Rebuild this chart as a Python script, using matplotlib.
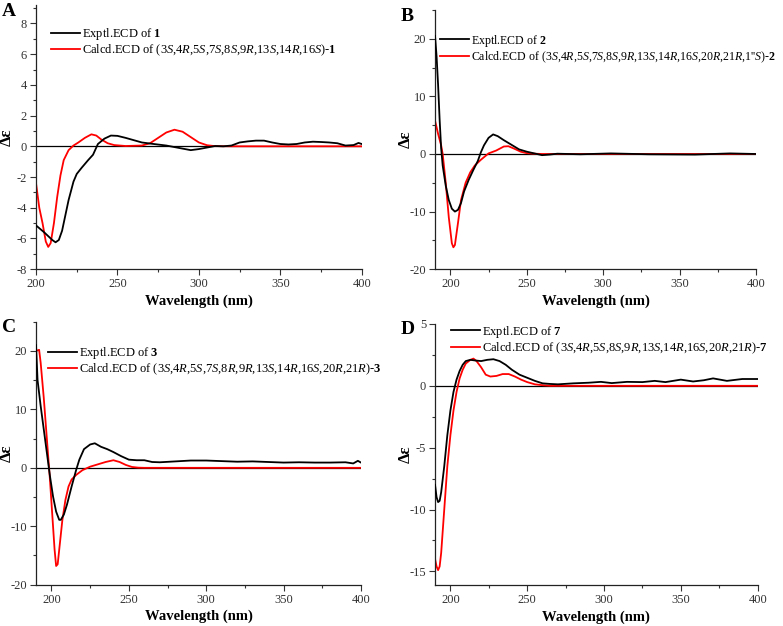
import numpy as np
import matplotlib
matplotlib.use("Agg")
import matplotlib.pyplot as plt
from matplotlib.ticker import AutoMinorLocator

plt.rcParams['font.family'] = ['Liberation Serif', 'DejaVu Serif']
plt.rcParams['mathtext.fontset'] = 'custom'
plt.rcParams['mathtext.rm'] = 'Liberation Serif'
plt.rcParams['mathtext.it'] = 'Liberation Serif:italic'
plt.rcParams['mathtext.bf'] = 'Liberation Serif:bold'
plt.rcParams['axes.unicode_minus'] = False

# -- panel A -------------------------------------------------------------------
a_exp_x = [200, 205, 208, 210, 212, 214, 216, 218, 220, 223, 225, 228, 232, 235, 238, 242, 246,
           250, 255, 260, 265, 270, 280, 290, 295, 300, 305, 310, 315, 320, 325, 330, 335, 340,
           345, 350, 355, 360, 365, 370, 375, 380, 385, 390, 395, 398, 400]
a_exp_y = [-5.15, -5.6, -5.9, -6.1, -6.25, -6.1, -5.5, -4.5, -3.5, -2.3, -1.8, -1.4, -0.9, -0.55,
           0.15, 0.5, 0.7, 0.68, 0.55, 0.4, 0.25, 0.18, 0.05, -0.15, -0.25, -0.18, -0.08, 0.02,
           0.0, 0.05, 0.25, 0.32, 0.37, 0.37, 0.25, 0.15, 0.12, 0.15, 0.25, 0.3, 0.28, 0.25, 0.2,
           0.05, 0.08, 0.22, 0.15]
a_calc_x = [200, 202, 204, 206, 207.5, 209, 211, 213, 215, 217, 220, 223, 226, 230, 234, 237, 240,
            244, 248, 255, 265, 270, 275, 280, 285, 290, 295, 300, 305, 310, 320, 400]
a_calc_y = [-2.4, -4.0, -5.0, -6.2, -6.55, -6.3, -5.0, -3.3, -1.9, -0.9, -0.25, 0.05, 0.25, 0.55,
            0.78, 0.7, 0.45, 0.2, 0.08, 0.02, 0.05, 0.2, 0.55, 0.9, 1.08, 0.95, 0.6, 0.25, 0.07,
            0.01, 0.0, 0.0]

# -- panel B -------------------------------------------------------------------
b_exp_x = [190, 191, 192, 193, 194, 195, 197, 199, 201, 203, 205, 207, 209, 212, 215, 218, 220,
           222, 225, 228, 231, 235, 240, 245, 250, 255, 260, 265, 270, 285, 305, 330, 360, 383, 400]
b_exp_y = [20.5, 17, 12, 6, 1, -2, -5.5, -8, -9.5, -10, -9.7, -8.5, -6.5, -4.5, -2.8, -1.2, 0.3,
           1.5, 2.8, 3.4, 3.1, 2.4, 1.6, 0.8, 0.4, 0.1, -0.2, -0.1, 0.05, -0.05, 0.1, -0.05, -0.1,
           0.1, 0.0]
b_calc_x = [190, 192, 194, 195, 197, 199, 201, 202, 203, 205, 207, 210, 213, 216, 220, 225, 230,
            235, 238, 242, 246, 250, 255, 260, 400]
b_calc_y = [5.8, 3.5, 1.5, 0, -5, -11, -15.5, -16.2, -15.8, -12, -8, -5, -3.2, -2, -1, 0.1, 0.6,
            1.3, 1.35, 0.9, 0.4, 0.15, 0.05, 0.0, 0.0]

# -- panel C -------------------------------------------------------------------
c_exp_x = [190, 191, 193, 195, 197, 199, 201, 203, 205, 206, 208, 210, 213, 216, 218, 221, 225,
           228, 232, 236, 240, 245, 250, 255, 260, 265, 270, 280, 290, 300, 310, 320, 330, 340,
           350, 360, 370, 380, 390, 395, 398, 400]
c_exp_y = [21, 15, 10.6, 6.6, 2.6, -1.4, -4.9, -7.5, -8.9, -8.9, -8, -6.3, -3.2, -0.3, 1.4, 3.2,
           4.0, 4.2, 3.6, 3.2, 2.7, 2.0, 1.4, 1.3, 1.3, 1.0, 0.95, 1.1, 1.25, 1.25, 1.15, 1.05,
           1.1, 1.0, 0.9, 0.95, 0.9, 0.9, 0.95, 0.75, 1.2, 0.9]
c_calc_x = [190, 192, 193, 195, 197, 199, 201, 202, 203, 204, 205, 207, 209, 211, 213, 216, 220,
            225, 230, 235, 240, 244, 248, 252, 256, 260, 400]
c_calc_y = [20, 20.2, 18, 12, 5, -2, -10, -14, -16.8, -16.5, -14, -9, -5.5, -3.2, -2, -1.2, -0.4,
            0.2, 0.6, 1.0, 1.3, 1.0, 0.5, 0.15, 0.03, 0.0, 0.0]

# -- panel D -------------------------------------------------------------------
d_exp_x = [190, 191, 192, 193, 194, 196, 198, 200, 202, 204, 206, 208, 210, 213, 216, 220, 224,
           228, 232, 236, 240, 245, 250, 255, 260, 265, 270, 280, 290, 298, 305, 315, 325, 333,
           340, 350, 358, 365, 371, 380, 390, 400]
d_exp_y = [-8, -9, -9.4, -9.3, -8.6, -6.5, -4, -2, -0.5, 0.5, 1.2, 1.7, 2.0, 2.1, 2.05, 2.0, 2.1,
           2.15, 2.0, 1.7, 1.3, 0.9, 0.65, 0.4, 0.2, 0.15, 0.12, 0.2, 0.25, 0.32, 0.22, 0.32, 0.3,
           0.4, 0.3, 0.5, 0.35, 0.45, 0.6, 0.4, 0.55, 0.55]
d_calc_x = [190, 191, 192, 193, 194, 196, 198, 200, 202, 204, 206, 208, 210, 213, 215, 217, 220,
            223, 226, 230, 234, 238, 242, 246, 250, 255, 260, 265, 400]
d_calc_y = [-14, -14.6, -14.9, -14.6, -13.5, -10, -6.5, -4, -2, -0.5, 0.6, 1.3, 1.8, 2.1, 2.2,
            2.0, 1.5, 0.9, 0.75, 0.8, 0.95, 0.95, 0.75, 0.5, 0.3, 0.12, 0.05, 0.0, 0.0]

panels = [
    dict(tag="A", pos=(0.046, 0.570, 0.416, 0.422), xlim=(200, 400), ylim=(-8, 9.2),
         yticks=np.arange(-8, 9, 2), ex=a_exp_x, ey=a_exp_y, cx=a_calc_x, cy=a_calc_y,
         leg=(0.046, 0.92), fs=9,
         lab1=r"Exptl.ECD of $\mathbf{1}$",
         lab2=r"Calcd.ECD of (3$\mathit{S}$,4$\mathit{R}$,5$\mathit{S}$,7$\mathit{S}$,8$\mathit{S}$,"
              r"9$\mathit{R}$,13$\mathit{S}$,14$\mathit{R}$,16$\mathit{S}$)-$\mathbf{1}$"),
    dict(tag="B", pos=(0.5556, 0.570, 0.410, 0.414), xlim=(190, 400), ylim=(-20, 25),
         yticks=np.arange(-20, 21, 10), ex=b_exp_x, ey=b_exp_y, cx=b_calc_x, cy=b_calc_y,
         leg=(0.016, 0.913), fs=8.6,
         lab1=r"Exptl.ECD of $\mathbf{2}$",
         lab2=r"Calcd.ECD of (3$\mathit{S}$,4$\mathit{R}$,5$\mathit{S}$,7$\mathit{S}$,8$\mathit{S}$,"
              r"9$\mathit{R}$,13$\mathit{S}$,14$\mathit{R}$,16$\mathit{S}$,20$\mathit{R}$,"
              r"21$\mathit{R}$,1''$\mathit{S}$)-$\mathbf{2}$"),
    dict(tag="C", pos=(0.046, 0.066, 0.415, 0.420), xlim=(190, 400), ylim=(-20, 25),
         yticks=np.arange(-20, 21, 10), ex=c_exp_x, ey=c_exp_y, cx=c_calc_x, cy=c_calc_y,
         leg=(0.037, 0.911), fs=9,
         lab1=r"Exptl.ECD of $\mathbf{3}$",
         lab2=r"Calcd.ECD of (3$\mathit{S}$,4$\mathit{R}$,5$\mathit{S}$,7$\mathit{S}$,8$\mathit{R}$,"
              r"9$\mathit{R}$,13$\mathit{S}$,14$\mathit{R}$,16$\mathit{S}$,20$\mathit{R}$,"
              r"21$\mathit{R}$)-$\mathbf{3}$"),
    dict(tag="D", pos=(0.5556, 0.0655, 0.412, 0.417), xlim=(190, 400), ylim=(-16.1, 5),
         yticks=np.arange(-15, 6, 5), ex=d_exp_x, ey=d_exp_y, cx=d_calc_x, cy=d_calc_y,
         leg=(0.05, 1.001), fs=9,
         lab1=r"Exptl.ECD of $\mathbf{7}$",
         lab2=r"Calcd.ECD of (3$\mathit{S}$,4$\mathit{R}$,5$\mathit{S}$,8$\mathit{S}$,9$\mathit{R}$,"
              r"13$\mathit{S}$,14$\mathit{R}$,16$\mathit{S}$,20$\mathit{R}$,21$\mathit{R}$)-$\mathbf{7}$"),
]

fig = plt.figure(figsize=(7.83, 6.26), dpi=100)

for p in panels:
    ax = fig.add_axes(p["pos"])
    ax.axhline(0, color="black", lw=0.9, zorder=1)
    ax.plot(p["ex"], p["ey"], color="black", lw=1.3, label=p["lab1"], zorder=3)
    ax.plot(p["cx"], p["cy"], color="#ff0000", lw=1.3, label=p["lab2"], zorder=2)
    ax.set_xlim(*p["xlim"])
    ax.set_ylim(*p["ylim"])
    ax.set_xticks([200, 250, 300, 350, 400])
    ax.set_yticks(p["yticks"])
    ax.xaxis.set_minor_locator(AutoMinorLocator(2))
    ax.yaxis.set_minor_locator(AutoMinorLocator(2))
    for s in ["top", "right"]:
        ax.spines[s].set_visible(False)
    for s in ["left", "bottom"]:
        ax.spines[s].set_linewidth(0.9)
        ax.spines[s].set_color("#222222")
    ax.tick_params(which="major", length=4, width=0.8, labelsize=9, colors="#333333", pad=2.5)
    ax.tick_params(which="minor", length=2.5, width=0.8, colors="#333333")
    ax.set_xlabel("Wavelength (nm)", fontsize=10.5, fontweight="bold", labelpad=3)
    ax.set_ylabel("Δε", fontsize=12, fontweight="bold")
    ax.yaxis.set_label_coords(-0.066, 0.5)
    ax.legend(loc="upper left", bbox_to_anchor=p["leg"], frameon=False, fontsize=p["fs"],
              handlelength=2.3 * 9 / p["fs"], handletextpad=0.2, borderaxespad=0, borderpad=0,
              labelspacing=0.05)
    bb = ax.get_position()
    fig.text(bb.x0 - 0.044, bb.y1 + 0.004, p["tag"], fontsize=14, fontweight="bold",
             va="top", ha="left")

fig.savefig("out.png", dpi=100)
